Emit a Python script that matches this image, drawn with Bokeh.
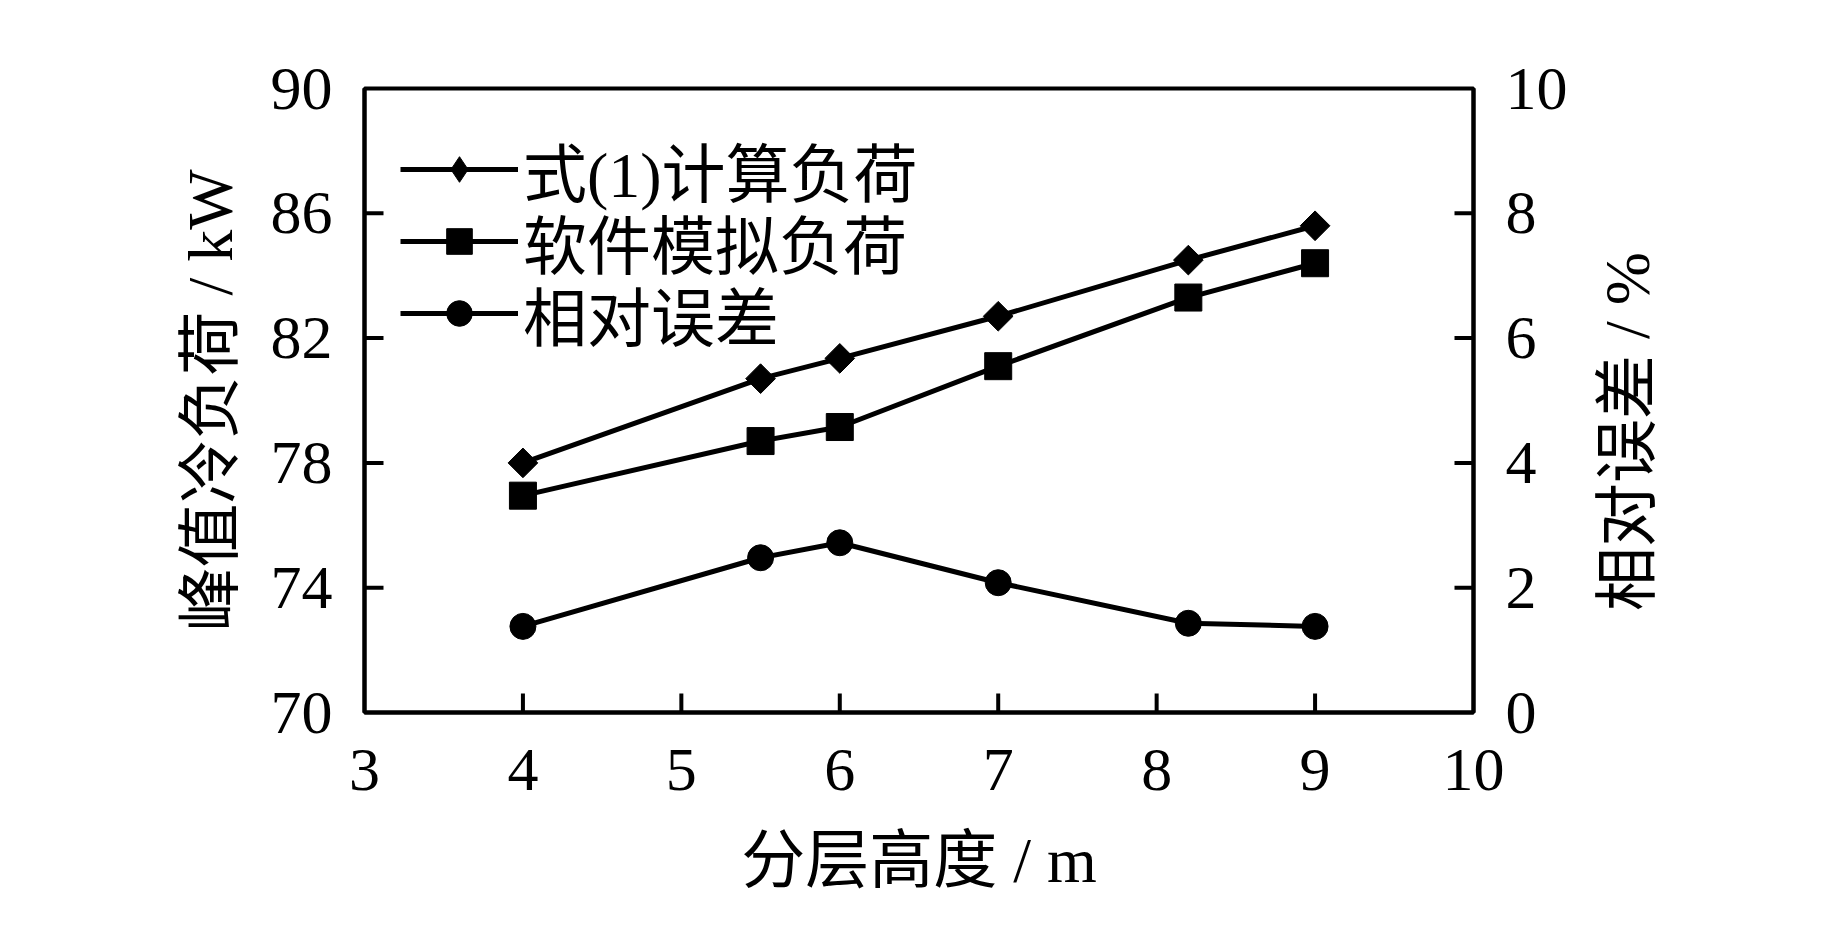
import math
from bokeh.plotting import figure
from bokeh.layouts import row
from bokeh.models import (Range1d, LinearAxis, FixedTicker, Legend, LegendItem,
                          ColumnDataSource, Label)
from bokeh.embed import file_html
from bokeh.resources import INLINE

# ---- data ----
heights = [4, 5.5, 6, 7, 8.2, 9]                       # 分层高度 / m
calc_load = [78.0, 80.7, 81.35, 82.7, 84.5, 85.6]      # 式(1)计算负荷 / kW
sim_load = [76.95, 78.7, 79.15, 81.1, 83.3, 84.4]      # 软件模拟负荷 / kW
rel_error = [1.38, 2.48, 2.72, 2.08, 1.43, 1.38]       # 相对误差 / %

x_ticks = [3, 4, 5, 6, 7, 8, 9, 10]
y_ticks = [70, 74, 78, 82, 86, 90]
y2_ticks = [0, 2, 4, 6, 8, 10]

names = ["式(1)计算负荷", "软件模拟负荷", "相对误差"]
x_label = "分层高度 / m"
y_label = "峰值冷负荷 / kW"
y2_label = "相对误差 / %"

FONT = "'Liberation Serif', 'Noto Sans CJK SC', serif"
TICK_FS = "62px"
LAB_FS = "64px"

W_TOTAL, H = 1827, 929
W = 1585                      # main figure width; the rest holds the right title
BL, BR, BT, BB = 364, 112, 88, 217
X0, X1, Y0, Y1, E0, E1 = 3, 10, 70, 90, 0, 10
fw, fh = W - BL - BR, H - BT - BB
TICK = 19  # px

p = figure(width=W, height=H, output_backend="svg", toolbar_location=None,
           x_range=Range1d(X0, X1), y_range=Range1d(Y0, Y1),
           min_border_left=BL, min_border_right=BR,
           min_border_top=BT, min_border_bottom=BB)
p.extra_y_ranges = {"err": Range1d(E0, E1)}
p.grid.visible = False
p.outline_line_color = "black"
p.outline_line_width = 4
p.background_fill_color = "white"
p.border_fill_color = "white"

# inward tick marks
dx = TICK * (X1 - X0) / fw
dy = TICK * (Y1 - Y0) / fh
xt = x_ticks[1:-1]
p.segment(x0=xt, y0=[Y0] * len(xt), x1=xt, y1=[Y0 + dy] * len(xt),
          line_color="black", line_width=4)
yt = y_ticks[1:-1]
p.segment(x0=[X0] * len(yt), y0=yt, x1=[X0 + dx] * len(yt), y1=yt,
          line_color="black", line_width=4)
et = y2_ticks[1:-1]
p.segment(x0=[X1 - dx] * len(et), y0=et, x1=[X1] * len(et), y1=et,
          line_color="black", line_width=4, y_range_name="err")

src = ColumnDataSource(dict(x=heights, calc=calc_load, sim=sim_load, err=rel_error))

LW = 5
l1 = p.line("x", "calc", source=src, line_color="black", line_width=LW)
p.scatter("x", "calc", source=src, marker="square", angle=math.pi / 4, size=21,
          fill_color="black", line_color="black")
l2 = p.line("x", "sim", source=src, line_color="black", line_width=LW)
s2 = p.scatter("x", "sim", source=src, marker="square", size=27,
               fill_color="black", line_color="black")
l3 = p.line("x", "err", source=src, line_color="black", line_width=LW, y_range_name="err")
s3 = p.scatter("x", "err", source=src, marker="circle", size=26,
               fill_color="black", line_color="black", y_range_name="err")

# legend-only diamond marker (not visible in the plot)
dummy = ColumnDataSource(dict(x=[float("nan")], y=[float("nan")]))
d_leg = p.scatter("x", "y", source=dummy, marker="diamond", size=20,
                  fill_color="black", line_color="black")

def style_axis(ax, ticks, label, standoff_tick, standoff_label):
    ax.ticker = FixedTicker(ticks=ticks)
    ax.minor_tick_line_color = None
    ax.major_tick_in = 0
    ax.major_tick_out = 0
    ax.axis_line_width = 4
    ax.axis_line_color = "black"
    ax.major_label_text_font = FONT
    ax.major_label_text_font_size = TICK_FS
    ax.major_label_text_color = "black"
    ax.major_label_standoff = standoff_tick
    ax.axis_label = label
    ax.axis_label_text_font = FONT
    ax.axis_label_text_font_size = LAB_FS
    ax.axis_label_text_font_style = "normal"
    ax.axis_label_text_color = "black"
    ax.axis_label_standoff = standoff_label

style_axis(p.xaxis[0], x_ticks, x_label, 37, 32)
style_axis(p.yaxis[0], y_ticks, y_label, 32, 22)

right = LinearAxis(y_range_name="err")
style_axis(right, y2_ticks, None, 32, 36)
p.add_layout(right, "right")

# one legend per row so the row spacing can match the reference
row_centers = [542, 470, 398]   # px above the bottom of the frame
items = [[l1, d_leg], [l2, s2], [l3, s3]]
for name, rends, cy in zip(names, items, row_centers):
    lg = Legend(items=[LegendItem(label=name, renderers=rends)],
                location=(36, cy - 45))
    lg.padding = 0
    lg.margin = 0
    lg.spacing = 0
    lg.border_line_alpha = 0
    lg.background_fill_alpha = 0
    lg.glyph_width = 118
    lg.glyph_height = 64
    lg.label_height = 64
    lg.label_standoff = 5
    lg.label_text_font = FONT
    lg.label_text_font_size = LAB_FS
    lg.label_text_color = "black"
    p.add_layout(lg, "center")

# narrow companion figure carrying the right-axis title (reads bottom-to-top);
# its frame is aligned with the main frame by the row layout
W2 = W_TOTAL - W
p2 = figure(width=W2, height=H, output_backend="svg", toolbar_location=None,
            x_range=Range1d(0, 1), y_range=Range1d(0, 1),
            x_axis_location=None, y_axis_location=None,
            min_border_left=0, min_border_right=0,
            min_border_top=BT, min_border_bottom=BB)
p2.grid.visible = False
p2.outline_line_color = None
p2.background_fill_color = "white"
p2.border_fill_color = "white"
p2.add_layout(Label(x=42, y=281, x_units="screen", y_units="screen",
                    text=y2_label, angle=math.pi / 2, text_align="center",
                    text_baseline="middle", text_font=FONT,
                    text_font_size=LAB_FS, text_color="black"))

layout = row(p, p2, spacing=0)
open("out.html", "w").write(file_html(layout, INLINE))
